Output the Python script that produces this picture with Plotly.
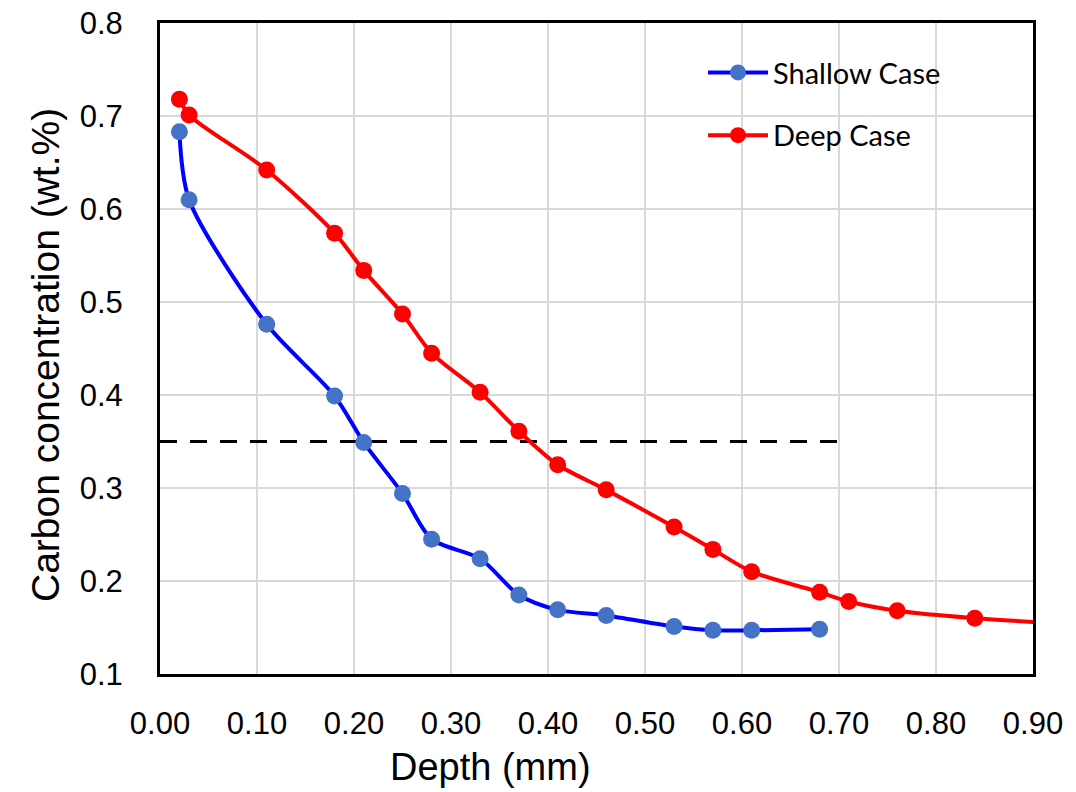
import plotly.graph_objects as go

depth_shallow = [0.02, 0.03, 0.11, 0.18, 0.21, 0.25, 0.28, 0.33, 0.37, 0.41, 0.46, 0.53, 0.57, 0.61, 0.68]
carbon_shallow = [0.683, 0.610, 0.476, 0.399, 0.349, 0.294, 0.245, 0.224, 0.185, 0.169, 0.163, 0.151, 0.147, 0.147, 0.148]

depth_deep = [0.02, 0.03, 0.11, 0.18, 0.21, 0.25, 0.28, 0.33, 0.37, 0.41, 0.46, 0.53, 0.57, 0.61, 0.68, 0.71, 0.76, 0.84, 0.97]
carbon_deep = [0.718, 0.701, 0.642, 0.574, 0.534, 0.487, 0.445, 0.403, 0.361, 0.325, 0.298, 0.258, 0.234, 0.210, 0.188, 0.178, 0.168, 0.160, 0.152]

threshold_x = [0.0, 0.70]
threshold_y = [0.35, 0.35]

x_ticks = [0.0, 0.1, 0.2, 0.3, 0.4, 0.5, 0.6, 0.7, 0.8, 0.9]
x_labels = ["0.00", "0.10", "0.20", "0.30", "0.40", "0.50", "0.60", "0.70", "0.80", "0.90"]
y_ticks = [0.1, 0.2, 0.3, 0.4, 0.5, 0.6, 0.7, 0.8]
y_labels = ["0.1", "0.2", "0.3", "0.4", "0.5", "0.6", "0.7", "0.8"]

x_title = "Depth (mm)"
y_title = "Carbon concentration (wt.%)"

title_font = dict(family="Liberation Sans, Arial", size=38, color="black")

fig = go.Figure()

fig.add_trace(go.Scatter(
    x=threshold_x, y=threshold_y, mode="lines",
    line=dict(color="black", width=3, dash="17px,13px"),
    showlegend=False, hoverinfo="skip"))

fig.add_trace(go.Scatter(
    x=depth_shallow, y=carbon_shallow, mode="lines+markers", name="Shallow Case",
    line=dict(color="#0000FF", width=4, shape="spline", smoothing=0.8),
    marker=dict(color="#4472C4", size=17), legendgroup="a"))

fig.add_trace(go.Scatter(
    x=depth_deep, y=carbon_deep, mode="lines+markers", name="Deep Case",
    line=dict(color="#FF0000", width=4, shape="spline", smoothing=0.8),
    marker=dict(color="#FF0000", size=17), legendgroup="b"))

fig.update_layout(
    width=1076, height=792,
    margin=dict(l=160, r=43, t=23, b=118),
    paper_bgcolor="white", plot_bgcolor="white",
    font=dict(family="Liberation Sans, Arial", color="black"),
    legend=dict(
        x=0.622, y=0.963, xanchor="left", yanchor="top",
        bgcolor="rgba(0,0,0,0)", font=dict(family="Lato, Calibri", size=29),
        tracegroupgap=22, itemwidth=60),
    xaxis=dict(
        range=[0, 0.9], tickvals=x_ticks, ticktext=x_labels,
        showgrid=True, gridcolor="#d9d9d9", gridwidth=1.5,
        showline=True, linecolor="black", linewidth=3, mirror=True,
        ticks="", zeroline=False, ticklabelstandoff=20, automargin=False,
        tickfont=dict(size=31)),
    yaxis=dict(
        range=[0.1, 0.8], tickvals=y_ticks, ticktext=y_labels,
        showgrid=True, gridcolor="#d9d9d9", gridwidth=1.5,
        showline=True, linecolor="black", linewidth=3, mirror=True,
        ticks="", zeroline=False, ticklabelstandoff=28, automargin=False,
        tickfont=dict(size=31)),
    annotations=[
        dict(text=x_title, xref="paper", yref="paper", x=0.379, y=-0.143,
             xanchor="center", yanchor="middle", showarrow=False, font=title_font),
        dict(text=y_title, xref="paper", yref="paper", x=-0.1317, y=0.49,
             xanchor="center", yanchor="middle", showarrow=False, textangle=-90,
             font=dict(title_font, size=39)),
    ],
)

fig.write_html("out.html", config={"displayModeBar": False},
               post_script="document.body.style.margin='0';")
